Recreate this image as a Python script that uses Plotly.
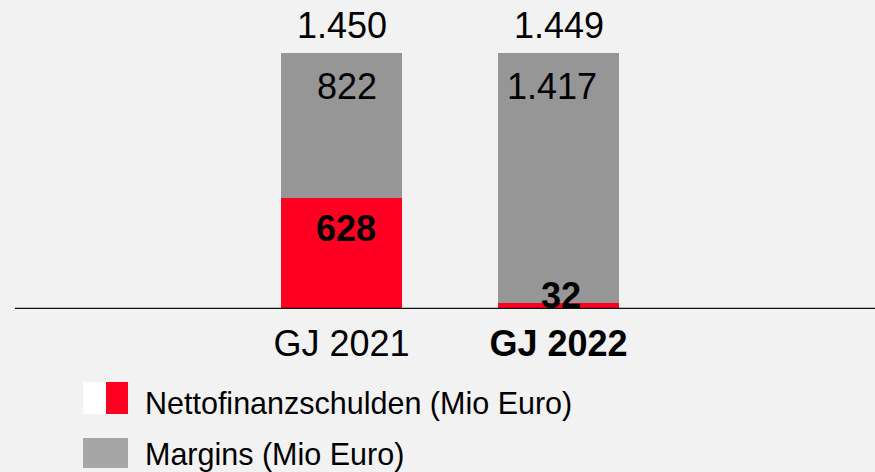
import plotly.graph_objects as go

# ---- data ----
categories = ["GJ 2021", "GJ 2022"]
tick_labels = ["GJ 2021", "<b>GJ 2022</b>"]
netto = [628, 32]
margins = [822, 1417]
totals = [1450, 1449]
series_names = ["Nettofinanzschulden (Mio Euro)", "Margins (Mio Euro)"]

RED = "#ff0022"
GREY = "#969696"
LEG_GREY = "#a6a6a6"
BG = "#f2f2f2"
FONT = "Liberation Sans, Arial, Helvetica, sans-serif"

W, H = 875, 472


def de(v):
    return f"{v:,}".replace(",", ".")


fig = go.Figure()
fig.add_bar(x=categories, y=netto, name=series_names[0], marker=dict(color=RED, line=dict(width=0)),
            showlegend=False, hoverinfo="skip")
fig.add_bar(x=categories, y=margins, name=series_names[1], marker=dict(color=GREY, line=dict(width=0)),
            showlegend=False, hoverinfo="skip")

annotations = []
for i, c in enumerate(categories):
    # totals above bars
    annotations.append(dict(x=c, y=totals[i], xref="x", yref="y", text=de(totals[i]),
                            showarrow=False, yanchor="middle", yshift=28,
                            font=dict(size=36, color="black", family=FONT)))
    # margins labels near top of grey segment
    annotations.append(dict(x=c, y=netto[i] + margins[i], xref="x", yref="y", text=de(margins[i]),
                            showarrow=False, yanchor="middle", yshift=-33,
                            xshift=5 if i == 0 else -7,
                            font=dict(size=36, color="black", family=FONT)))
    # netto labels (bold)
    big = netto[i] > 200
    annotations.append(dict(x=c, y=netto[i], xref="x", yref="y", text=f"<b>{de(netto[i])}</b>",
                            showarrow=False, yanchor="middle", yshift=-30 if big else 8,
                            xshift=4 if i == 0 else 2,
                            font=dict(size=36, color="black", family=FONT)))

# legend text
leg_y_px = [403, 454]
for name, ypx in zip(series_names, leg_y_px):
    annotations.append(dict(x=143 / W, y=1 - ypx / H, xref="paper", yref="paper", text=name,
                            showarrow=False, xanchor="left", yanchor="middle",
                            font=dict(size=30.5, color="black", family=FONT)))

shapes = [
    # baseline
    dict(type="line", xref="paper", yref="y", x0=15 / W, x1=1, y0=0, y1=0,
         line=dict(color="#111111", width=2.5), layer="above"),
    # legend markers
    dict(type="rect", xref="paper", yref="paper", x0=83 / W, x1=106 / W, y0=1 - 414 / H, y1=1 - 382 / H,
         fillcolor="white", line=dict(width=0)),
    dict(type="rect", xref="paper", yref="paper", x0=106 / W, x1=128 / W, y0=1 - 414 / H, y1=1 - 382 / H,
         fillcolor=RED, line=dict(width=0)),
    dict(type="rect", xref="paper", yref="paper", x0=83 / W, x1=128 / W, y0=1 - 468 / H, y1=1 - 438 / H,
         fillcolor=LEG_GREY, line=dict(width=0)),
]

base_px = 309
px_per_cat = 217.0
c0 = 341.5
fig.update_layout(
    width=W, height=H,
    margin=dict(l=0, r=0, t=0, b=0),
    paper_bgcolor=BG, plot_bgcolor=BG,
    barmode="stack",
    bargap=1 - 121 / px_per_cat,
    showlegend=False,
    annotations=annotations,
    shapes=shapes,
    font=dict(family=FONT, color="black"),
    xaxis=dict(type="category", categoryorder="array", categoryarray=categories,
               tickvals=categories, ticktext=tick_labels,
               range=[-c0 / px_per_cat, (W - c0) / px_per_cat],
               showgrid=False, zeroline=False, showline=False, ticks="",
               ticklabelstandoff=10,
               tickfont=dict(size=36, color="black", family=FONT), anchor="y"),
    yaxis=dict(domain=[(H - base_px) / H, 1], range=[0, base_px / (256 / 1450)],
               showgrid=False, zeroline=False, showline=False, showticklabels=False, ticks=""),
)

fig.write_html(
    "out.html",
    config={"displayModeBar": False},
    post_script="document.body.style.margin='0';document.body.style.background='#f2f2f2';"
                "document.documentElement.style.overflow='hidden';",
)
